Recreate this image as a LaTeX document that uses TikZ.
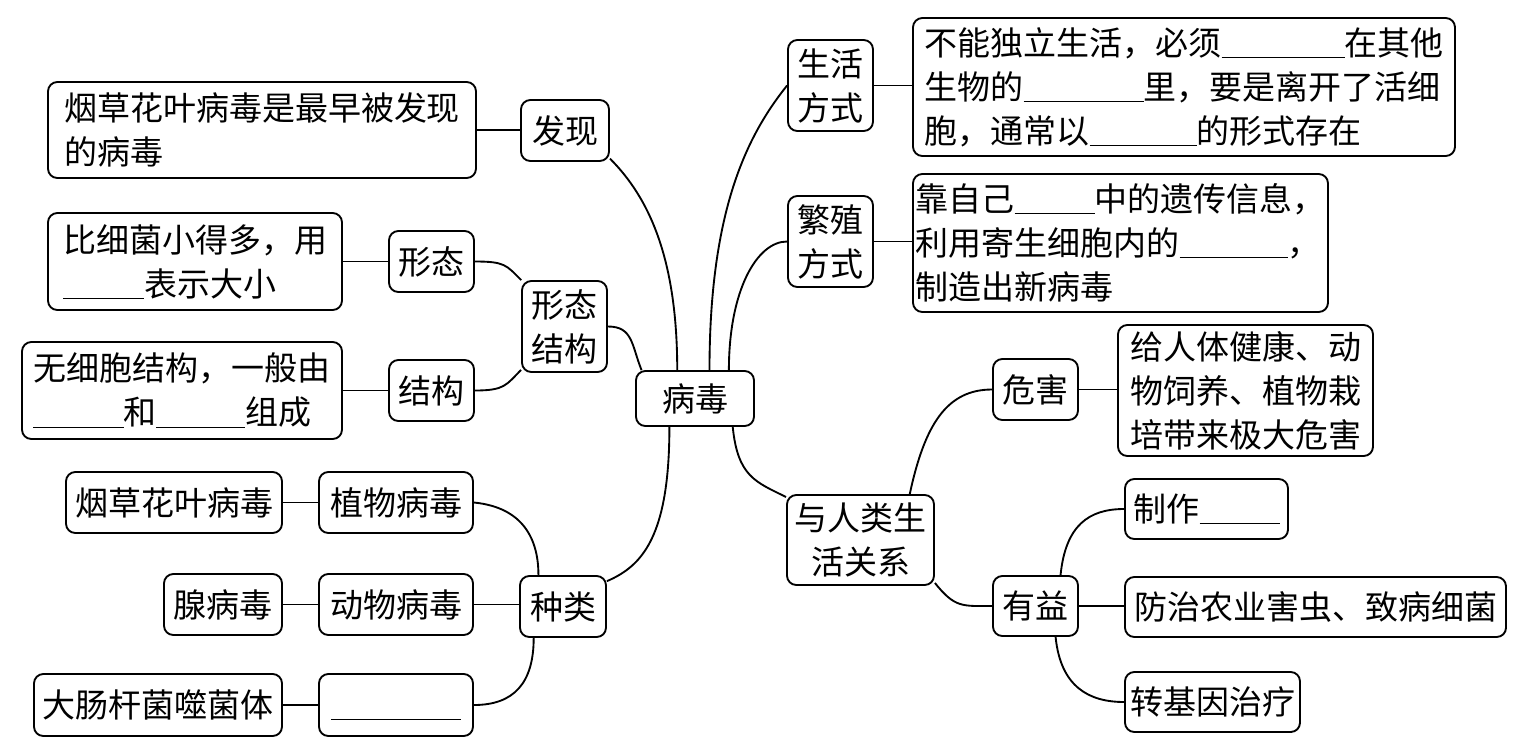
\documentclass[tikz,border=0pt]{standalone}
\usepackage{fontspec}
\newfontfamily\cjk{Noto Sans CJK SC}
\newdimen\pxu \pxu=0.75pt
\newcommand\blank[1]{\underline{\hspace{#1\pxu}}}

\tikzset{every picture/.style={line width=1.4pt}}
\tikzset{
  mapbox/.style={draw, rounded corners=7pt, inner sep=0pt, align=center,
    font=\cjk\fontsize{24.75pt}{33pt}\selectfont},
  txtbox/.style={mapbox, align=left},
  sz/.style 2 args={minimum width={#1*0.75pt}, minimum height={#2*0.75pt}},
}

\begin{document}
\begin{tikzpicture}[x=0.75pt,y=0.75pt,yscale=-1,xscale=1]
\useasboundingbox (0,0) rectangle (1531,754);

% Text Node
\node [mapbox, sz={118}{55}] (bingdu) at (695,398.5) {病毒};

%Shape: Rounded Rect (left side)
\node [txtbox, sz={428}{96}] (faxiantxt) at (262,130) {烟草花叶病毒是最早被发现\\的病毒};
\node [mapbox, sz={88}{61}] (faxian) at (565,130.5) {发现};
\node [txtbox, sz={294}{97}] (xingtaitxt) at (195,261.5) {比细菌小得多，用\\\blank{81}表示大小};
\node [mapbox, sz={85}{61}] (xingtai) at (431.5,261.5) {形态};
\node [mapbox, sz={85}{91}] (xtjg) at (564.5,326.5) {形态\\结构};
\node [txtbox, sz={320}{97}] (jiegoutxt) at (182,390.5) {无细胞结构，一般由\\\blank{90}和\blank{89}组成};
\node [mapbox, sz={85}{61}] (jiegou) at (431.5,390.5) {结构};
\node [mapbox, sz={154}{61}] (zhiwu) at (396,502.5) {植物病毒};
\node [mapbox, sz={216}{61}] (yancao) at (174,502.5) {烟草花叶病毒};
\node [mapbox, sz={154}{61}] (dongwu) at (396,604.5) {动物病毒};
\node [mapbox, sz={118}{61}] (xian) at (223,604.5) {腺病毒};
\node [mapbox, sz={86}{61}] (zhonglei) at (563,606.5) {种类};
\node [mapbox, sz={154}{62}] (xijun) at (396,705) {\blank{130}\vphantom{体}};
\node [mapbox, sz={248}{62}] (dachang) at (158,705) {大肠杆菌噬菌体};

%Shape: Rounded Rect (right side)
\node [mapbox, sz={85}{91}] (shenghuo) at (830.5,85.5) {生活\\方式};
\node [txtbox, sz={542}{138}] (shenghuotxt) at (1184,87) {不能独立生活，必须\blank{123}在其他\\生物的\blank{120}里，要是离开了活细\\胞，通常以\blank{107}的形式存在};
\node [mapbox, sz={85}{91}] (fanzhi) at (830.5,241.5) {繁殖\\方式};
\node [txtbox, sz={415}{138}] (fanzhitxt) at (1120.5,243) {靠自己\blank{80}中的遗传信息，\\利用寄生细胞内的\blank{108}，\\制造出新病毒};
\node [mapbox, sz={147}{90}] (yuren) at (860.5,540) {与人类生\\活关系};
\node [mapbox, sz={85}{61}] (weihai) at (1035.5,389.5) {危害};
\node [txtbox, sz={255}{131}] (weihaitxt) at (1245.5,390.5) {给人体健康、动\\物饲养、植物栽\\培带来极大危害};
\node [mapbox, sz={85}{60}] (youyi) at (1035.5,606) {有益};
\node [mapbox, sz={163}{60}] (zhizuo) at (1206.5,509) {制作\blank{80}};
\node [mapbox, sz={381}{60}] (fangzhi) at (1315.5,607) {防治农业害虫、致病细菌};
\node [mapbox, sz={175}{60}] (zhuan) at (1212.5,702) {转基因治疗};

%Straight Lines
\draw (faxiantxt.east) -- (faxiantxt.east -| faxian.west);
\draw (xingtaitxt.east) -- (xingtaitxt.east -| xingtai.west);
\draw (jiegoutxt.east) -- (jiegoutxt.east -| jiegou.west);
\draw (yancao.east) -- (yancao.east -| zhiwu.west);
\draw (xian.east) -- (xian.east -| dongwu.west);
\draw (dongwu.east) -- (dongwu.east -| zhonglei.west);
\draw (dachang.east) -- (dachang.east -| xijun.west);
\draw (shenghuo.east) -- (shenghuo.east -| shenghuotxt.west);
\draw (fanzhi.east) -- (fanzhi.east -| fanzhitxt.west);
\draw (weihai.east) -- (weihai.east -| weihaitxt.west);
\draw (youyi.east) -- (youyi.east -| fangzhi.west);

%Curve Lines
\draw (faxian.-32) .. controls +(40,40) and +(0,-110) .. (bingdu.122);
\draw (xtjg.east) .. controls +(25,0) and +(-10,-25) .. (bingdu.152);
\draw (xingtai.east) .. controls +(30,0) and +(-15,-15) .. (xtjg.133);
\draw (jiegou.east) .. controls +(30,0) and +(-15,15) .. (xtjg.-135);
\draw (bingdu.228) .. controls +(0,110) and +(35,-15) .. (zhonglei.30);
\draw (zhiwu.east) .. controls +(50,5) and +(0,-35) .. (zhonglei.128);
\draw (zhonglei.227) .. controls +(0,45) and +(40,0) .. (xijun.east);
\draw (bingdu.63) .. controls +(0,-160) and +(-40,50) .. (shenghuo.west);
\draw (bingdu.40) .. controls +(0,-80) and +(-30,0) .. (fanzhi.west);
\draw (bingdu.323) .. controls +(5,50) and +(-30,-15) .. (yuren.150);
\draw (yuren.43) .. controls +(15,-70) and +(-45,0) .. (weihai.west);
\draw (yuren.-30) .. controls +(20,25) and +(-30,0) .. (youyi.west);
\draw (youyi.51) .. controls +(5,-50) and +(-35,0) .. (zhizuo.west);
\draw (youyi.-57) .. controls +(5,50) and +(-35,0) .. (zhuan.west);

\end{tikzpicture}
\end{document}
